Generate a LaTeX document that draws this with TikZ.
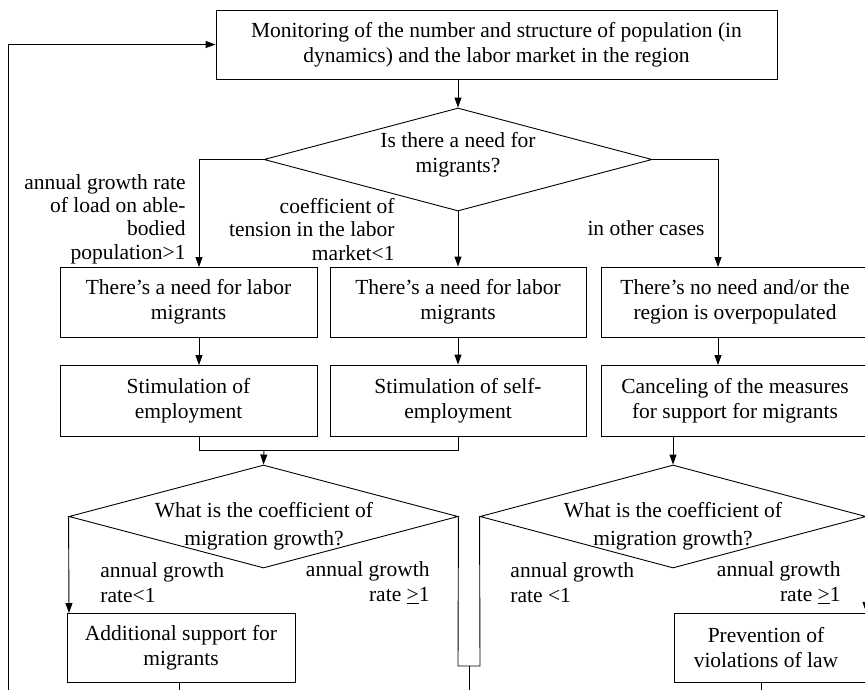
\documentclass[tikz,border=0pt]{standalone}
\usepackage{fontspec}
\setmainfont{Liberation Serif}
\usetikzlibrary{arrows.meta,shapes.geometric}
\begin{document}
\begin{tikzpicture}[x=1pt,y=-1pt,
  font=\fontsize{21.5}{25}\selectfont,
  line width=0.9pt,
  box/.style={draw, rectangle, inner sep=0pt, align=center},
  diam/.style={draw, diamond, inner sep=0pt},
  txt/.style={inner sep=0pt, align=center},
  lbl/.style={inner sep=0pt, font=\fontsize{21.5}{23.3}\selectfont},
  lblb/.style={inner sep=0pt, font=\fontsize{21.5}{25}\selectfont},
  arr/.style={-{Triangle[length=10pt,width=7pt]}}]
\useasboundingbox (0,0) rectangle (865,689);
\clip (0,0) rectangle (865,689);

% top box
\node[box, minimum width=561, minimum height=69] (mon) at (496.5,44.5)
  {Monitoring of the number and structure of population (in\\dynamics) and the labor market in the region};

% first decision
\node[diam, minimum width=388, minimum height=103] (d1) at (458,159.5) {};
\node[txt] (d1t) at (458,155) {Is there a need for\\migrants?};

% row 1
\node[box, minimum width=257, minimum height=70] (b1) at (188.5,302) {There’s a need for labor\\migrants};
\node[box, minimum width=256, minimum height=70] (b2) at (458,302) {There’s a need for labor\\migrants};
\node[box, minimum width=268, minimum height=70] (b3) at (735,302) {There’s no need and/or the\\region is overpopulated};

% row 2
\node[box, minimum width=257, minimum height=71] (c1) at (188.5,400.5) {Stimulation of\\employment};
\node[box, minimum width=256, minimum height=71] (c2) at (458,400.5) {Stimulation of self-\\employment};
\node[box, minimum width=268, minimum height=71] (c3) at (735,400.5) {Canceling of the measures\\for support for migrants};

% second-level decisions
\node[diam, minimum width=389, minimum height=103] (d2) at (263.5,516.5) {};
\node[txt, font=\fontsize{21.5}{28.5}\selectfont] (d2t) at (264,526) {What is the coefficient of\\migration growth?};
\node[diam, minimum width=386, minimum height=103] (d3) at (673,516.5) {};
\node[txt, font=\fontsize{21.5}{28.5}\selectfont] (d3t) at (673,526) {What is the coefficient of\\migration growth?};

% bottom boxes
\node[box, minimum width=228, minimum height=69] (e1) at (181,647.5) {Additional support for\\migrants};
\node[box, minimum width=196, minimum height=69] (e2) at (772,647.5) {};
\node[txt] (e2t) at (766,647.5) {Prevention of\\violations of law};

% labels
\node[lbl, align=right, anchor=east] (l1) at (186,219) {annual growth rate\\of load on able-\\bodied\\population>1};
\node[lbl, align=right, anchor=east] (l2) at (395,229.5) {coefficient of\\tension in the labor\\market<1};
\node[lbl] (l3) at (646,228) {in other cases};
\node[lblb, align=left, anchor=west] (l4) at (100,582.5) {annual growth\\rate<1};
\node[lblb, align=right, anchor=east] (l5) at (430,583) {annual growth\\rate \underline{>}1};
\node[lblb, align=left, anchor=west] (l6) at (510,582.5) {annual growth\\rate <1};
\node[lblb, align=right, anchor=east] (l7) at (841,583) {annual growth\\rate \underline{>}1};

% helper coordinates
\coordinate (b1in) at (199,267);
\coordinate (b3in) at (718,267);
\coordinate (c1in) at (199,365);
\coordinate (c3in) at (718,365);
\coordinate (c1out) at (199,436);
\coordinate (c3out) at (673,436);
\coordinate (m1) at (199,450);
\coordinate (m2) at (458,450);
\coordinate (m) at (264,450);
\coordinate (e1in) at (69,613);
\coordinate (e2in) at (866,612);
\coordinate (r1) at (458,666);
\coordinate (r2) at (480,666);
\coordinate (r3) at (469,666);
\coordinate (r4) at (469,700);
\coordinate (e1out) at (179,682);
\coordinate (e1end) at (179,700);
\coordinate (e2out) at (761,682);
\coordinate (e2end) at (761,700);
\coordinate (loopb) at (8,700);
\coordinate (loopt) at (8,44.5);

% connectors
\draw[arr] (mon.south -| d1.north) -- (d1.north);
\draw[arr] (d1.west) -| (b1in);
\draw[arr] (d1.south) -- (b2.north);
\draw[arr] (d1.east) -| (b3in);
\draw[arr] (b1in |- b1.south) -- (c1in);
\draw[arr] (b2.south) -- (c2.north);
\draw[arr] (b3in |- b3.south) -- (c3in);
\draw (c1out) -- (m1) -- (m2) -- (c2.south);
\draw[arr] (m) -- (d2.north);
\draw[arr] (c3out) -- (d3.north);
\draw[arr] (d2.west) -- (e1in);
\draw[arr] (d3.east) -- (e2in);
\draw (d2.east) -- (r1) -- (r2) -- (d3.west);
\draw (r3) -- (r4);
\draw (e1out) -- (e1end);
\draw (e2out) -- (e2end);
\draw[arr] (loopb) -- (loopt) -- (mon.west);
\end{tikzpicture}
\end{document}
